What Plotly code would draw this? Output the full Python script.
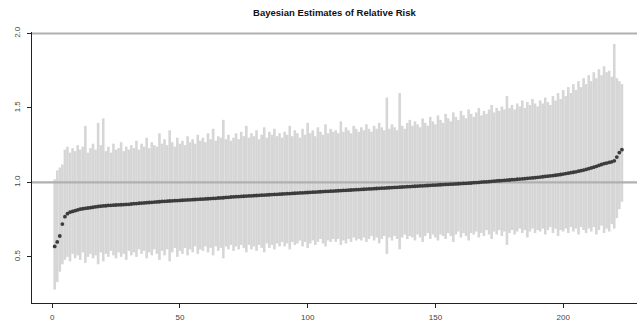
import plotly.graph_objects as go

# ---- data (sorted Bayesian relative-risk estimates) ----
estimate = [
    0.57, 0.60, 0.64, 0.72, 0.77, 0.79, 0.80, 0.805, 0.81, 0.815,
    0.82, 0.823, 0.826, 0.828, 0.83, 0.833, 0.836, 0.838, 0.84, 0.842,
    0.843, 0.845, 0.846, 0.847, 0.848, 0.849, 0.85, 0.851, 0.852, 0.853,
    0.855, 0.857, 0.858, 0.86, 0.861, 0.862, 0.864, 0.865, 0.866, 0.868,
    0.869, 0.87, 0.872, 0.873, 0.874, 0.875, 0.876, 0.877, 0.878, 0.879,
    0.88, 0.881, 0.882, 0.883, 0.884, 0.885, 0.886, 0.887, 0.888, 0.889,
    0.89, 0.891, 0.892, 0.893, 0.895, 0.896, 0.897, 0.899, 0.9, 0.902,
    0.903, 0.904, 0.905, 0.906, 0.907, 0.908, 0.909, 0.91, 0.911, 0.912,
    0.913, 0.914, 0.915, 0.916, 0.917, 0.918, 0.919, 0.92, 0.921, 0.922,
    0.923, 0.924, 0.925, 0.926, 0.927, 0.928, 0.929, 0.93, 0.931, 0.932,
    0.933, 0.934, 0.935, 0.936, 0.937, 0.938, 0.939, 0.94, 0.941, 0.942,
    0.943, 0.944, 0.945, 0.946, 0.947, 0.948, 0.949, 0.95, 0.951, 0.952,
    0.953, 0.954, 0.955, 0.956, 0.957, 0.958, 0.959, 0.96, 0.961, 0.962,
    0.963, 0.964, 0.965, 0.966, 0.967, 0.968, 0.969, 0.97, 0.971, 0.972,
    0.973, 0.974, 0.975, 0.976, 0.977, 0.978, 0.979, 0.98, 0.981, 0.982,
    0.983, 0.984, 0.985, 0.986, 0.987, 0.988, 0.989, 0.99, 0.991, 0.992,
    0.993, 0.994, 0.995, 0.996, 0.998, 0.999, 1.0, 1.002, 1.003, 1.004,
    1.005, 1.007, 1.008, 1.01, 1.011, 1.012, 1.014, 1.015, 1.016, 1.018,
    1.019, 1.021, 1.022, 1.024, 1.025, 1.027, 1.029, 1.03, 1.032, 1.034,
    1.036, 1.038, 1.04, 1.042, 1.044, 1.046, 1.048, 1.05, 1.053, 1.056,
    1.059, 1.062, 1.065, 1.068, 1.071, 1.075, 1.079, 1.083, 1.087, 1.092,
    1.097, 1.102, 1.108, 1.114, 1.12, 1.126, 1.13, 1.134, 1.138, 1.145,
    1.17, 1.20, 1.22,
]

upper = [
    1.02, 1.08, 1.10, 1.12, 1.22, 1.24, 1.20, 1.23, 1.21, 1.25,
    1.22, 1.24, 1.38, 1.20, 1.23, 1.26, 1.22, 1.40, 1.25, 1.43,
    1.21, 1.24, 1.20, 1.26, 1.22, 1.23, 1.27, 1.21, 1.24, 1.22,
    1.25, 1.23, 1.28, 1.22, 1.26, 1.24, 1.30, 1.23, 1.27, 1.25,
    1.24, 1.33, 1.26, 1.29, 1.25, 1.35, 1.27, 1.24, 1.30, 1.26,
    1.28, 1.25, 1.31, 1.27, 1.29, 1.26, 1.32, 1.28, 1.30, 1.27,
    1.33, 1.29, 1.36, 1.28, 1.31, 1.30, 1.42, 1.29, 1.32, 1.28,
    1.30, 1.33, 1.29, 1.34, 1.31, 1.38, 1.30, 1.33, 1.31, 1.35,
    1.29, 1.32, 1.37, 1.30, 1.34, 1.32, 1.36, 1.31, 1.33, 1.30,
    1.34, 1.32, 1.38, 1.31, 1.35, 1.33, 1.30, 1.36, 1.32, 1.40,
    1.33, 1.35, 1.31, 1.37, 1.34, 1.32, 1.39, 1.33, 1.36, 1.34,
    1.35, 1.33, 1.41, 1.34, 1.37, 1.35, 1.33, 1.38, 1.36, 1.34,
    1.37, 1.35, 1.39, 1.36, 1.34, 1.38, 1.36, 1.40, 1.37, 1.35,
    1.57, 1.36, 1.39, 1.37, 1.35, 1.60, 1.38, 1.36, 1.40, 1.42,
    1.38, 1.41, 1.39, 1.37, 1.43, 1.40, 1.38, 1.44, 1.41, 1.39,
    1.45, 1.42, 1.40, 1.46, 1.43, 1.41, 1.47, 1.44, 1.42, 1.48,
    1.45, 1.43, 1.49, 1.46, 1.44, 1.47, 1.50, 1.45, 1.48, 1.46,
    1.49, 1.52, 1.47, 1.50, 1.48, 1.51, 1.49, 1.58, 1.50, 1.52,
    1.49, 1.53, 1.51, 1.55, 1.50, 1.54, 1.52, 1.56, 1.53, 1.51,
    1.55, 1.53, 1.57, 1.54, 1.52, 1.58, 1.55, 1.60, 1.56, 1.62,
    1.58, 1.64, 1.60, 1.66, 1.62, 1.68, 1.64, 1.70, 1.66, 1.72,
    1.68, 1.74, 1.70, 1.76, 1.72, 1.78, 1.74, 1.75, 1.71, 1.93,
    1.70, 1.68, 1.66,
]

lower = [
    0.28, 0.33, 0.40, 0.45, 0.48, 0.50, 0.47, 0.52, 0.49, 0.51,
    0.48, 0.53, 0.46, 0.50, 0.52, 0.49, 0.51, 0.45, 0.53, 0.47,
    0.52, 0.50, 0.54, 0.51, 0.49, 0.53, 0.50, 0.52, 0.48, 0.54,
    0.51, 0.53, 0.50, 0.55, 0.52, 0.54, 0.49, 0.53, 0.51, 0.55,
    0.52, 0.48, 0.54, 0.51, 0.55, 0.47, 0.53, 0.56, 0.50, 0.54,
    0.52, 0.56, 0.51, 0.55, 0.53, 0.57, 0.52, 0.55, 0.54, 0.57,
    0.53, 0.56, 0.51, 0.57, 0.54, 0.56, 0.49, 0.57, 0.55, 0.58,
    0.54, 0.57, 0.55, 0.58, 0.56, 0.53, 0.58, 0.55, 0.57, 0.54,
    0.58, 0.56, 0.53, 0.59, 0.56, 0.58, 0.55, 0.59, 0.57, 0.60,
    0.57, 0.59, 0.55, 0.60, 0.58, 0.59, 0.61, 0.57, 0.60, 0.56,
    0.59, 0.61, 0.58, 0.60, 0.62, 0.59, 0.57, 0.61, 0.60, 0.62,
    0.60, 0.62, 0.58, 0.61, 0.59, 0.62, 0.60, 0.63, 0.61, 0.62,
    0.61, 0.63, 0.60, 0.62, 0.64, 0.61, 0.63, 0.59, 0.62, 0.64,
    0.52, 0.63, 0.61, 0.64, 0.62, 0.55, 0.63, 0.65, 0.62, 0.64,
    0.63, 0.61, 0.65, 0.63, 0.60, 0.64, 0.66, 0.62, 0.65, 0.63,
    0.61, 0.65, 0.64, 0.62, 0.66, 0.64, 0.60, 0.65, 0.67, 0.63,
    0.66, 0.64, 0.61, 0.66, 0.65, 0.67, 0.63, 0.66, 0.64, 0.68,
    0.65, 0.62, 0.67, 0.65, 0.68, 0.64, 0.67, 0.58, 0.66, 0.68,
    0.65, 0.67, 0.69, 0.66, 0.68, 0.63, 0.67, 0.69, 0.66, 0.68,
    0.67, 0.69, 0.65, 0.68, 0.70, 0.66, 0.69, 0.64, 0.68, 0.67,
    0.69, 0.66, 0.70, 0.67, 0.69, 0.65, 0.70, 0.68, 0.66, 0.69,
    0.67, 0.70, 0.65, 0.68, 0.71, 0.66, 0.69, 0.67, 0.72, 0.69,
    0.76, 0.82, 0.87,
]

x_ticks = [0, 50, 100, 150, 200]
y_ticks = [0.5, 1.0, 1.5, 2.0]
y_tick_labels = ["0.5", "1.0", "1.5", "2.0"]
ref_levels = [1.0, 2.0]
title = "Bayesian Estimates of Relative Risk"

idx = list(range(1, len(estimate) + 1))
err_plus = [u - e for u, e in zip(upper, estimate)]
err_minus = [e - l for e, l in zip(estimate, lower)]

fig = go.Figure()

# credible intervals
fig.add_trace(go.Scatter(
    x=idx, y=estimate, mode="markers",
    marker=dict(size=1, color="rgba(0,0,0,0)"),
    error_y=dict(type="data", symmetric=False, array=err_plus, arrayminus=err_minus,
                 color="#d6d6d6", thickness=2.6, width=0),
    showlegend=False, hoverinfo="skip",
))

# reference lines
for lv in ref_levels:
    fig.add_trace(go.Scatter(
        x=[-20, 260], y=[lv, lv], mode="lines",
        line=dict(color="#b0b0b0", width=2.2),
        showlegend=False, hoverinfo="skip",
    ))

# point estimates
fig.add_trace(go.Scatter(
    x=idx, y=estimate, mode="markers",
    marker=dict(size=3.8, color="#3c3c3c"),
    showlegend=False,
))

fig.update_layout(
    width=637, height=327,
    margin=dict(l=32, r=0, t=32, b=24, autoexpand=False),
    paper_bgcolor="white", plot_bgcolor="white",
    title=dict(text="<b>" + title + "</b>", x=0.525, xanchor="center", y=0.962, yanchor="middle",
               font=dict(family="Liberation Sans, Arial", size=9.5, color="#111")),
    font=dict(family="Liberation Sans, Arial", size=8, color="#444"),
    xaxis=dict(range=[-7.88, 228.9], tickvals=x_ticks, ticks="outside", ticklen=4,
               tickcolor="#222", showline=True, linecolor="#222", linewidth=1,
               showgrid=False, zeroline=False, ticklabelstandoff=2, automargin=False),
    yaxis=dict(range=[0.19, 2.01], tickvals=y_ticks, ticktext=y_tick_labels,
               ticks="outside", ticklen=4, tickcolor="#222", tickangle=-90,
               showline=True, linecolor="#222", linewidth=1,
               showgrid=False, zeroline=False, ticklabelstandoff=4, automargin=False),
)

fig.write_html(
    "out.html",
    config={"displayModeBar": False},
    post_script="document.body.style.margin='0';document.body.style.padding='0';",
)
